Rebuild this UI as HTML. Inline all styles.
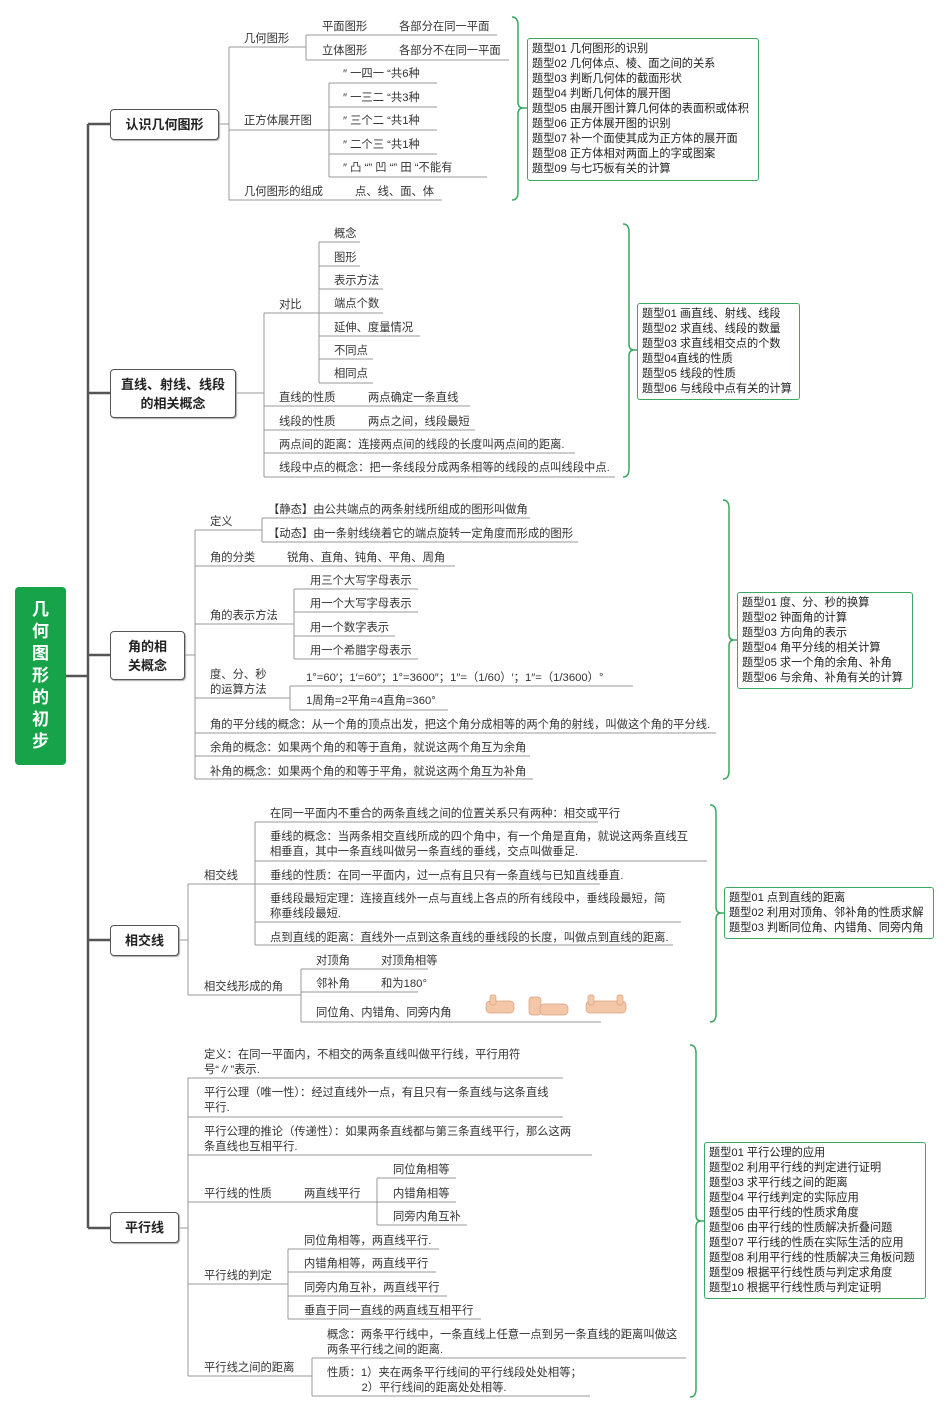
<!DOCTYPE html>
<html><head><meta charset="utf-8"><style>
body{margin:0;background:#fff;}
#c{position:relative;width:950px;height:1415px;overflow:hidden;font-family:"Liberation Sans","Noto Sans CJK SC",sans-serif;}
.t{position:absolute;font-size:11.3px;line-height:15px;white-space:nowrap;color:#333;margin-top:1px;}
.b{position:absolute;background:#fff;border:1.5px solid #555;border-radius:4px;box-shadow:1px 1px 1px #aaa;font-weight:bold;font-size:13px;color:#222;display:flex;align-items:center;justify-content:center;text-align:center;line-height:19px;box-sizing:border-box;}
.g{position:absolute;border:1.5px solid #3aa860;border-radius:3px;font-size:11.2px;line-height:15px;color:#222;padding:3px 4px;box-sizing:border-box;white-space:nowrap;}
#root{position:absolute;left:15px;top:587px;width:51px;height:178px;background:#17a34a;border-radius:4px;color:#fff;font-weight:bold;font-size:17px;line-height:22px;text-align:center;padding-top:12px;box-sizing:border-box;}
svg{position:absolute;left:0;top:0;}
</style></head><body><div id="c">
<svg width="950" height="1415">
<g stroke="#555" stroke-width="2.5" fill="none">
<path d="M88 124V1228M66 676H88M88 124H110M88 393H110M88 655H110M88 940H110M88 1228H110"/>
</g>
<g stroke="#999" stroke-width="1" fill="none">
<path d="M219 124H229M229 47V200M229 47H306M306 35V60M306 35H497M306 60H509M229 130H329M329 83V177M329 83H437M329 107H437M329 130H437M329 154H437M329 177H487M229 200H442"/>
<path d="M236 393H264M264 313V477M264 313H319M319 242V383M319 242H360M319 266H360M319 289H383M319 313H383M319 336H420M319 359H373M319 383H373M264 406H470M264 430H475M264 453H575M264 477H615"/>
<path d="M185 655H195M195 530V779M195 530H262M262 518V542M262 518H530M262 542H578M195 566H455M195 624H294M294 589V659M294 589H418M294 612H418M294 636H395M294 659H418M195 698H290M290 686V710M290 686H633M290 710H448M195 733H716M195 756H530M195 779H533"/>
<path d="M179 940H188M188 884V995M188 884H255M255 822V945M255 822H598M255 861H707M255 884H600M255 922H681M255 945H673M188 995H301M301 969V1022M301 969H428M301 992H418M301 1022H601"/>
<path d="M179 1228H188M188 1078V1376M188 1078H563M188 1117H563M188 1155H592M188 1202H377M377 1178V1225M377 1178H456M377 1202H456M377 1225H467M188 1284H288M288 1249V1319M288 1249H439M288 1272H436M288 1296H447M288 1319H481M188 1376H312M312 1358V1396M312 1358H686M312 1396H590"/>
</g>
<g stroke="#3aa860" stroke-width="1.5" fill="none">
<path d="M512 17Q518 17 518 25V102Q518 108 523 108Q518 108 518 114V192Q518 200 512 200M523 108H527"/>
<path d="M623 224Q629 224 629 232V344Q629 350 634 350Q629 350 629 356V469Q629 477 623 477M634 350H637"/>
<path d="M723 500Q729 500 729 508V634Q729 640 734 640Q729 640 729 646V771Q729 779 723 779M734 640H737"/>
<path d="M710 805Q716 805 716 813V907Q716 913 721 913Q716 913 716 919V1014Q716 1022 710 1022M721 913H724"/>
<path d="M690 1045Q696 1045 696 1053V1215Q696 1221 701 1221Q696 1221 696 1227V1389Q696 1397 690 1397M701 1221H704"/>
</g>
<g fill="#f3c7a8" stroke="#d9a080" stroke-width="0.7">
<rect x="486" y="1001" width="28" height="12" rx="4"/><rect x="490" y="995" width="6" height="10" rx="2"/>
<rect x="529" y="997" width="12" height="18" rx="3"/><rect x="540" y="1004" width="28" height="11" rx="4"/>
<rect x="586" y="1001" width="40" height="12" rx="4"/><rect x="588" y="995" width="6" height="10" rx="2"/><rect x="617" y="995" width="6" height="10" rx="2"/>
</g>
</svg>

<div id="root">几<br>何<br>图<br>形<br>的<br>初<br>步</div>
<div class="b" style="left:110px;top:109px;width:109px;height:31px;">认识几何图形</div>
<div class="b" style="left:110px;top:369px;width:126px;height:49px;">直线、射线、线段<br>的相关概念</div>
<div class="b" style="left:110px;top:631px;width:75px;height:49px;">角的相<br>关概念</div>
<div class="b" style="left:110px;top:925px;width:69px;height:31px;">相交线</div>
<div class="b" style="left:110px;top:1212px;width:69px;height:31px;">平行线</div>

<!-- branch 1 -->
<div class="t" style="left:244px;top:31px">几何图形</div>
<div class="t" style="left:322px;top:19px">平面图形</div><div class="t" style="left:399px;top:19px">各部分在同一平面</div>
<div class="t" style="left:322px;top:43px">立体图形</div><div class="t" style="left:399px;top:43px">各部分不在同一平面</div>
<div class="t" style="left:244px;top:113px">正方体展开图</div>
<div class="t" style="left:343px;top:66px">″ 一四一 “共6种</div>
<div class="t" style="left:343px;top:90px">″ 一三二 “共3种</div>
<div class="t" style="left:343px;top:113px">″ 三个二 “共1种</div>
<div class="t" style="left:343px;top:137px">″ 二个三 “共1种</div>
<div class="t" style="left:343px;top:160px">″ 凸 “” 凹 “” 田 “不能有</div>
<div class="t" style="left:244px;top:184px">几何图形的组成</div><div class="t" style="left:355px;top:184px">点、线、面、体</div>
<div class="g" style="left:527px;top:38px;width:232px;height:143px;">题型01 几何图形的识别<br>题型02 几何体点、棱、面之间的关系<br>题型03 判断几何体的截面形状<br>题型04 判断几何体的展开图<br>题型05 由展开图计算几何体的表面积或体积<br>题型06 正方体展开图的识别<br>题型07 补一个面使其成为正方体的展开面<br>题型08 正方体相对两面上的字或图案<br>题型09 与七巧板有关的计算</div>

<!-- branch 2 -->
<div class="t" style="left:279px;top:297px">对比</div>
<div class="t" style="left:334px;top:226px">概念</div>
<div class="t" style="left:334px;top:250px">图形</div>
<div class="t" style="left:334px;top:273px">表示方法</div>
<div class="t" style="left:334px;top:296px">端点个数</div>
<div class="t" style="left:334px;top:320px">延伸、度量情况</div>
<div class="t" style="left:334px;top:343px">不同点</div>
<div class="t" style="left:334px;top:366px">相同点</div>
<div class="t" style="left:279px;top:390px">直线的性质</div><div class="t" style="left:368px;top:390px">两点确定一条直线</div>
<div class="t" style="left:279px;top:414px">线段的性质</div><div class="t" style="left:368px;top:414px">两点之间，线段最短</div>
<div class="t" style="left:279px;top:437px">两点间的距离：连接两点间的线段的长度叫两点间的距离.</div>
<div class="t" style="left:279px;top:460px">线段中点的概念：把一条线段分成两条相等的线段的点叫线段中点.</div>
<div class="g" style="left:637px;top:303px;width:163px;height:97px;">题型01 画直线、射线、线段<br>题型02 求直线、线段的数量<br>题型03 求直线相交点的个数<br>题型04直线的性质<br>题型05 线段的性质<br>题型06 与线段中点有关的计算</div>

<!-- branch 3 -->
<div class="t" style="left:210px;top:514px">定义</div>
<div class="t" style="left:268px;top:502px">【静态】由公共端点的两条射线所组成的图形叫做角</div>
<div class="t" style="left:268px;top:526px">【动态】由一条射线绕着它的端点旋转一定角度而形成的图形</div>
<div class="t" style="left:210px;top:550px">角的分类</div><div class="t" style="left:287px;top:550px">锐角、直角、钝角、平角、周角</div>
<div class="t" style="left:210px;top:608px">角的表示方法</div>
<div class="t" style="left:310px;top:573px">用三个大写字母表示</div>
<div class="t" style="left:310px;top:596px">用一个大写字母表示</div>
<div class="t" style="left:310px;top:620px">用一个数字表示</div>
<div class="t" style="left:310px;top:643px">用一个希腊字母表示</div>
<div class="t" style="left:210px;top:667px">度、分、秒<br>的运算方法</div>
<div class="t" style="left:306px;top:670px">1°=60′；1′=60″；1°=3600″；1″=（1/60）′；1″=（1/3600）°</div>
<div class="t" style="left:306px;top:693px">1周角=2平角=4直角=360°</div>
<div class="t" style="left:210px;top:717px">角的平分线的概念：从一个角的顶点出发，把这个角分成相等的两个角的射线，叫做这个角的平分线.</div>
<div class="t" style="left:210px;top:740px">余角的概念：如果两个角的和等于直角，就说这两个角互为余角</div>
<div class="t" style="left:210px;top:764px">补角的概念：如果两个角的和等于平角，就说这两个角互为补角</div>
<div class="g" style="left:737px;top:592px;width:176px;height:97px;">题型01 度、分、秒的换算<br>题型02 钟面角的计算<br>题型03 方向角的表示<br>题型04 角平分线的相关计算<br>题型05 求一个角的余角、补角<br>题型06 与余角、补角有关的计算</div>

<!-- branch 4 -->
<div class="t" style="left:204px;top:868px">相交线</div>
<div class="t" style="left:270px;top:806px">在同一平面内不重合的两条直线之间的位置关系只有两种：相交或平行</div>
<div class="t" style="left:270px;top:829px">垂线的概念：当两条相交直线所成的四个角中，有一个角是直角，就说这两条直线互<br>相垂直，其中一条直线叫做另一条直线的垂线，交点叫做垂足.</div>
<div class="t" style="left:270px;top:868px">垂线的性质：在同一平面内，过一点有且只有一条直线与已知直线垂直.</div>
<div class="t" style="left:270px;top:891px">垂线段最短定理：连接直线外一点与直线上各点的所有线段中，垂线段最短，简<br>称垂线段最短.</div>
<div class="t" style="left:270px;top:930px">点到直线的距离：直线外一点到这条直线的垂线段的长度，叫做点到直线的距离.</div>
<div class="t" style="left:204px;top:979px">相交线形成的角</div>
<div class="t" style="left:316px;top:953px">对顶角</div><div class="t" style="left:381px;top:953px">对顶角相等</div>
<div class="t" style="left:316px;top:976px">邻补角</div><div class="t" style="left:381px;top:976px">和为180°</div>
<div class="t" style="left:316px;top:1005px">同位角、内错角、同旁内角</div>
<div class="g" style="left:724px;top:887px;width:210px;height:52px;">题型01 点到直线的距离<br>题型02 利用对顶角、邻补角的性质求解<br>题型03 判断同位角、内错角、同旁内角</div>

<!-- branch 5 -->
<div class="t" style="left:204px;top:1047px">定义：在同一平面内，不相交的两条直线叫做平行线，平行用符<br>号“∥”表示.</div>
<div class="t" style="left:204px;top:1085px">平行公理（唯一性）：经过直线外一点，有且只有一条直线与这条直线<br>平行.</div>
<div class="t" style="left:204px;top:1124px">平行公理的推论（传递性）：如果两条直线都与第三条直线平行，那么这两<br>条直线也互相平行.</div>
<div class="t" style="left:204px;top:1186px">平行线的性质</div><div class="t" style="left:304px;top:1186px">两直线平行</div>
<div class="t" style="left:393px;top:1162px">同位角相等</div>
<div class="t" style="left:393px;top:1186px">内错角相等</div>
<div class="t" style="left:393px;top:1209px">同旁内角互补</div>
<div class="t" style="left:204px;top:1268px">平行线的判定</div>
<div class="t" style="left:304px;top:1233px">同位角相等，两直线平行.</div>
<div class="t" style="left:304px;top:1256px">内错角相等，两直线平行</div>
<div class="t" style="left:304px;top:1280px">同旁内角互补，两直线平行</div>
<div class="t" style="left:304px;top:1303px">垂直于同一直线的两直线互相平行</div>
<div class="t" style="left:204px;top:1360px">平行线之间的距离</div>
<div class="t" style="left:327px;top:1327px">概念：两条平行线中，一条直线上任意一点到另一条直线的距离叫做这<br>两条平行线之间的距离.</div>
<div class="t" style="left:327px;top:1365px">性质：1）夹在两条平行线间的平行线段处处相等；<br>&nbsp;&nbsp;&nbsp;&nbsp;&nbsp;&nbsp;&nbsp;&nbsp;&nbsp;&nbsp;&nbsp;2）平行线间的距离处处相等.</div>
<div class="g" style="left:704px;top:1142px;width:222px;height:157px;">题型01 平行公理的应用<br>题型02 利用平行线的判定进行证明<br>题型03 求平行线之间的距离<br>题型04 平行线判定的实际应用<br>题型05 由平行线的性质求角度<br>题型06 由平行线的性质解决折叠问题<br>题型07 平行线的性质在实际生活的应用<br>题型08 利用平行线的性质解决三角板问题<br>题型09 根据平行线性质与判定求角度<br>题型10 根据平行线性质与判定证明</div>
</div></body></html>
